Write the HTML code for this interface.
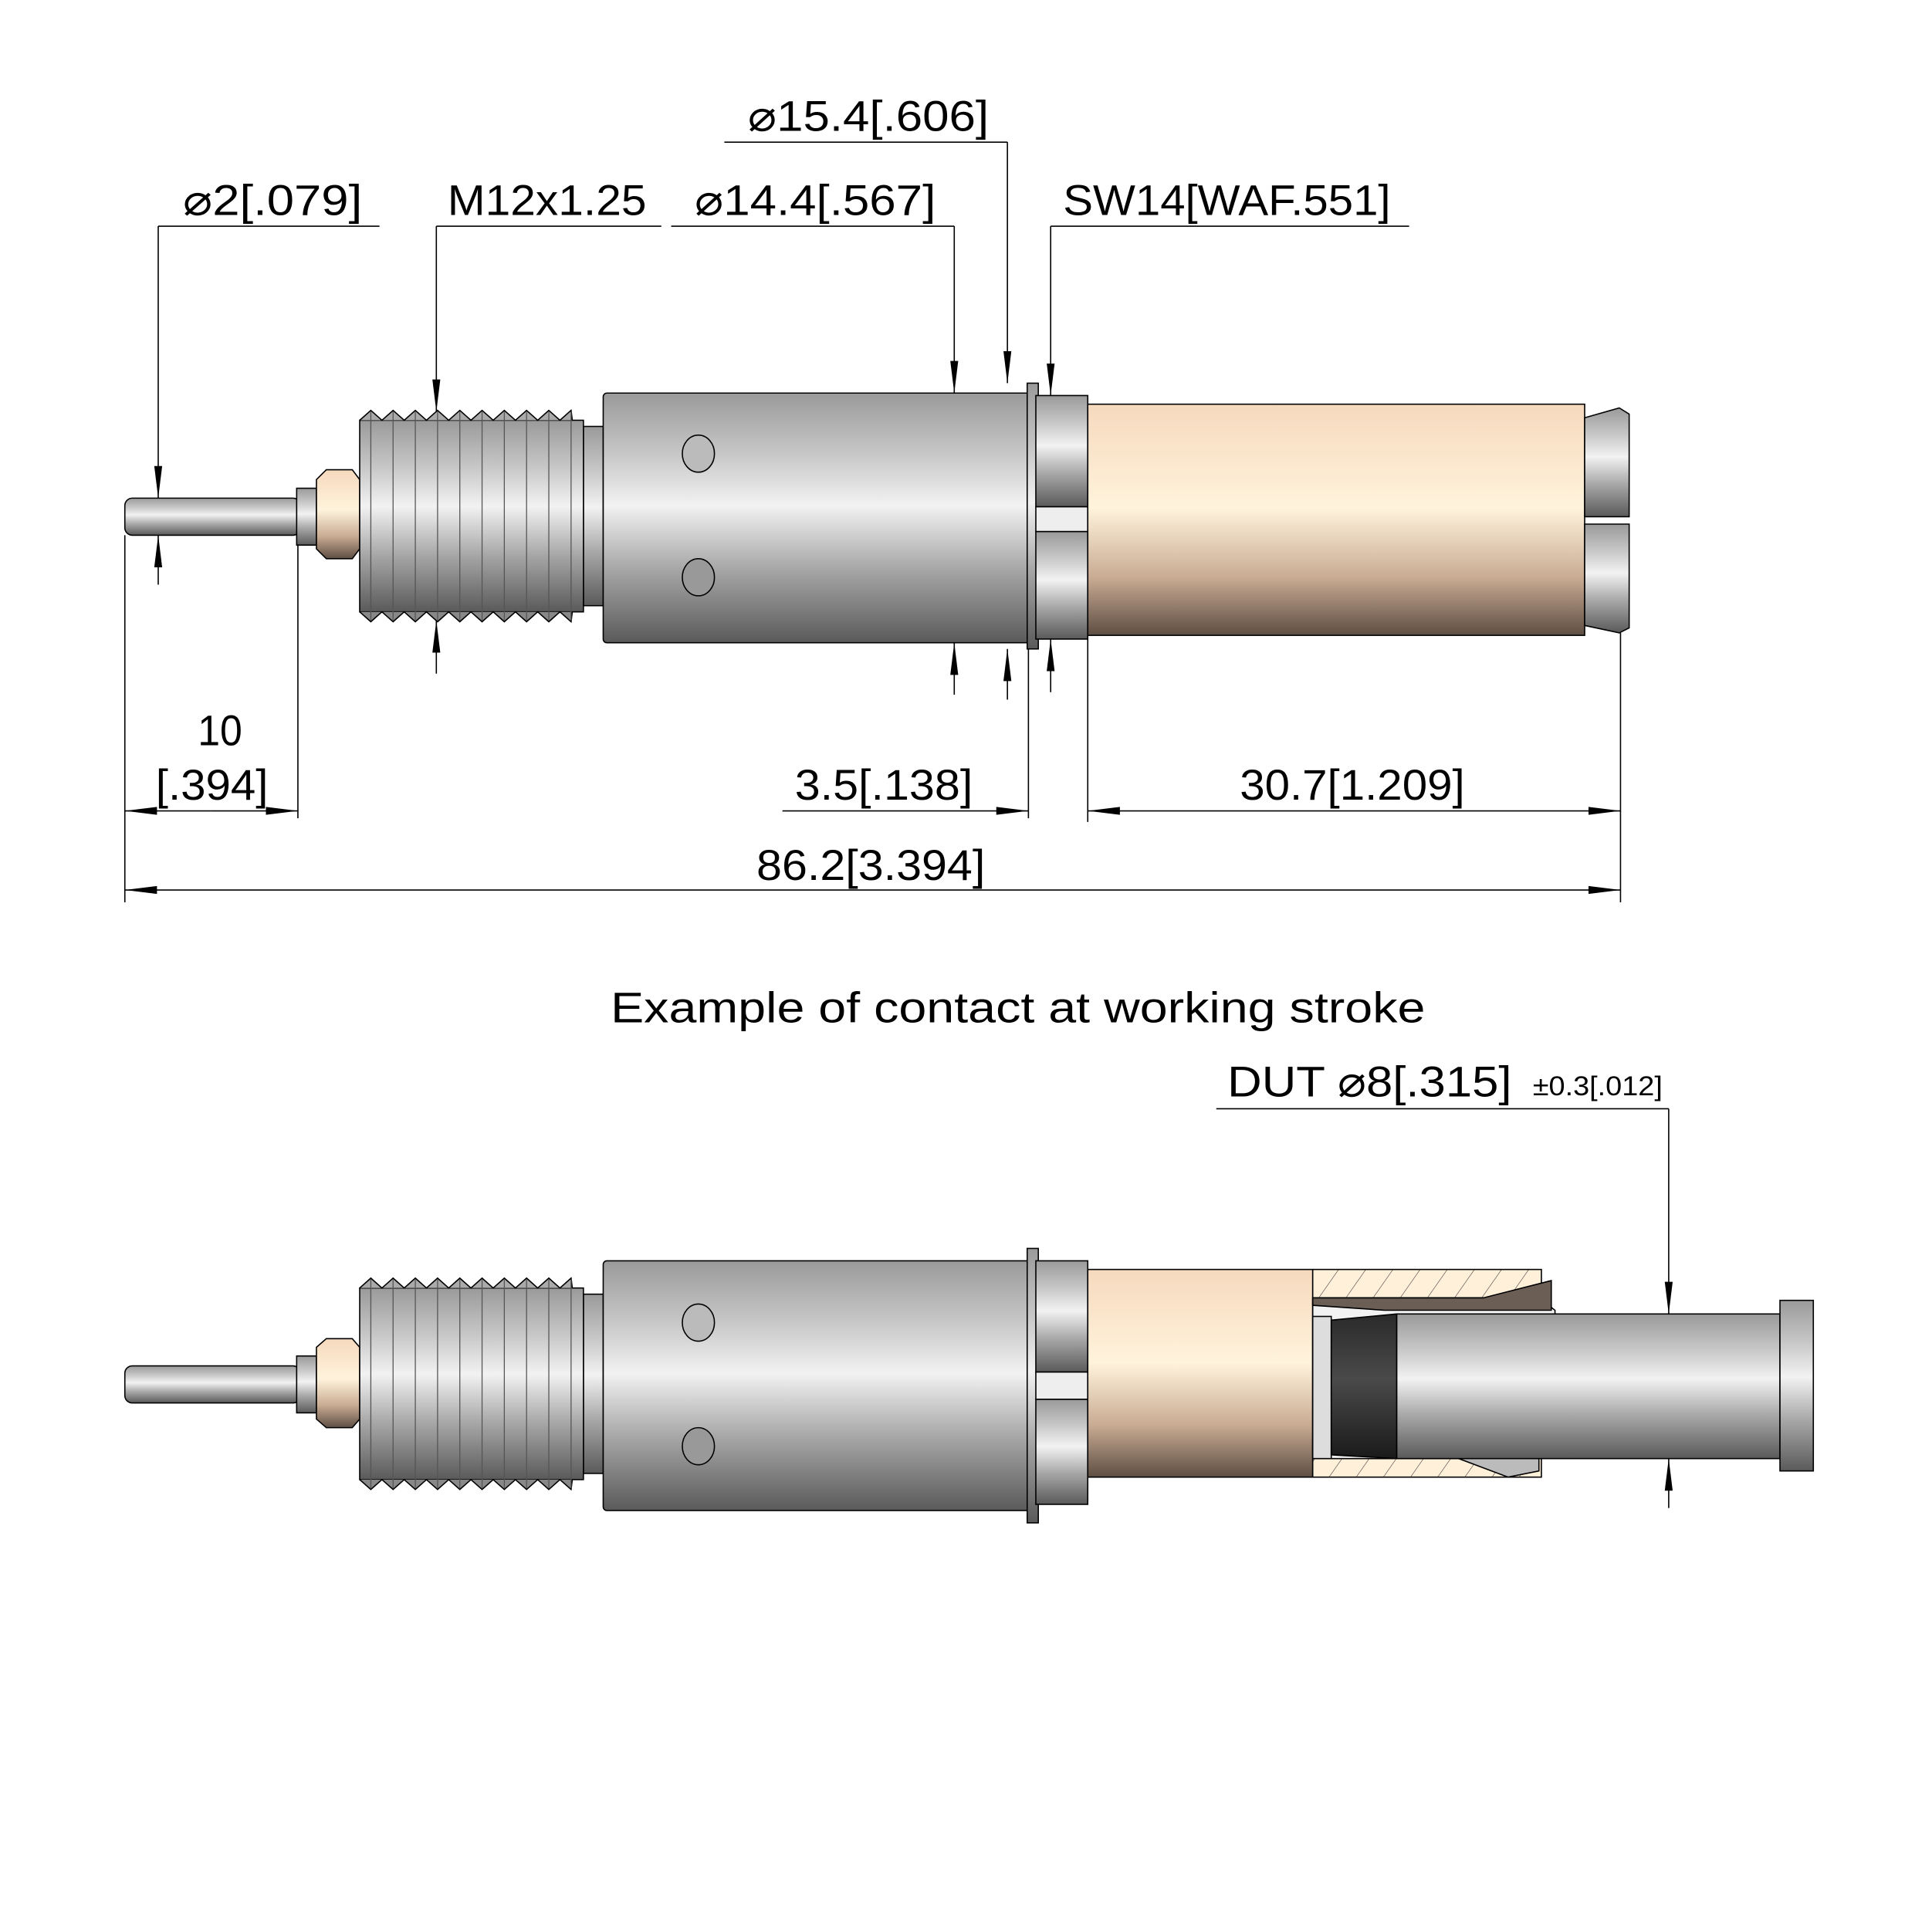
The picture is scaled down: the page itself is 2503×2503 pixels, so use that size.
<!DOCTYPE html>
<html><head><meta charset="utf-8"><style>html,body{margin:0;padding:0;background:#fff}svg{display:block}</style></head>
<body>
<svg width="2503" height="2503" viewBox="0 0 1563 1563" xmlns="http://www.w3.org/2000/svg" font-family="'Liberation Sans',sans-serif">
<defs>
<linearGradient id="m" x1="0" y1="0" x2="0" y2="1">
<stop offset="0" stop-color="#9a9a9a"/><stop offset="0.25" stop-color="#c8c8c8"/><stop offset="0.45" stop-color="#f2f2f2"/><stop offset="0.7" stop-color="#a8a8a8"/><stop offset="1" stop-color="#5a5a5a"/></linearGradient>
<linearGradient id="t" x1="0" y1="0" x2="0" y2="1">
<stop offset="0" stop-color="#f6d9bd"/><stop offset="0.45" stop-color="#fff3dc"/><stop offset="0.75" stop-color="#c9ab93"/><stop offset="1" stop-color="#5e4e43"/></linearGradient>
<linearGradient id="k" x1="0" y1="0" x2="0" y2="1">
<stop offset="0" stop-color="#2a2a2a"/><stop offset="0.45" stop-color="#4a4a4a"/><stop offset="1" stop-color="#1a1a1a"/></linearGradient>
<pattern id="h" width="18" height="18" patternUnits="userSpaceOnUse" patternTransform="rotate(35)"><rect width="18" height="18" fill="#fff0da"/><line x1="0" y1="0" x2="0" y2="18" stroke="#333" stroke-width="0.7"/></pattern>
<marker id="a" viewBox="0 0 10 10" refX="10" refY="5" markerWidth="26" markerHeight="8" markerUnits="userSpaceOnUse" orient="auto" preserveAspectRatio="none"><path d="M0,1 L10,5 L0,9z" fill="#000"/></marker>
</defs>
<g stroke="#000" stroke-width="1" fill="none">
<!-- ===== TOP DRAWING ===== -->
<rect x="101" y="403" width="142" height="30" rx="6" fill="url(#m)"/>
<rect x="240" y="395" width="16" height="46" fill="url(#m)"/>
<path d="M256,388 L264,380 L285,380 L291,388 L291,444 L285,452 L264,452 L256,444Z" fill="url(#t)"/>
<rect x="472" y="345" width="16" height="145" fill="url(#m)"/>
<rect x="291" y="340" width="181" height="155" fill="url(#m)"/>
<path d="M291,340 l9,-8 l9,8 l9,-8 l9,8 l9,-8 l9,8 l9,-8 l9,8 l9,-8 l9,8 l9,-8 l9,8 l9,-8 l9,8 l9,-8 l9,8 l9,-8 l9,8 l9,-8 l1,8" fill="#aaa"/>
<path d="M291,495 l9,8 l9,-8 l9,8 l9,-8 l9,8 l9,-8 l9,8 l9,-8 l9,8 l9,-8 l9,8 l9,-8 l9,8 l9,-8 l9,8 l9,-8 l9,8 l9,-8 l9,8 l1,-8" fill="#888"/>
<g stroke="#555" stroke-width="0.8"><path d="M300,333V502M318,333V502M336,333V502M354,333V502M372,333V502M390,333V502M408,333V502M426,333V502M444,333V502M462,333V502"/></g>
<rect x="488" y="318" width="346" height="202" rx="3" fill="url(#m)"/>
<ellipse cx="565" cy="367" rx="13" ry="15" fill="#bbb"/>
<ellipse cx="565" cy="467" rx="13" ry="15" fill="#999"/>
<rect x="831" y="310" width="9" height="215" fill="url(#m)"/>
<path d="M838,320 L880,320 L880,410 L838,410Z" fill="url(#m)"/>
<path d="M838,430 L880,430 L880,517 L838,517Z" fill="url(#m)"/>
<rect x="838" y="410" width="42" height="20" fill="#eee"/>
<rect x="880" y="327" width="402" height="187" fill="url(#t)"/>
<path d="M1282,338 L1310,330 L1318,335 L1318,418 L1282,418Z" fill="url(#m)"/>
<path d="M1282,424 L1318,424 L1318,508 L1310,512 L1282,506Z" fill="url(#m)"/>
<!-- dims top -->
<path d="M128,183H307M353,183H535M543,183H772M586,115H815M850,183H1140M984,897H1350"/>
<path d="M128,183V403" marker-end="url(#a)"/><path d="M128,473V433" marker-end="url(#a)"/>
<path d="M353,183V333" marker-end="url(#a)"/><path d="M353,545V502" marker-end="url(#a)"/>
<path d="M772,183V318" marker-end="url(#a)"/><path d="M772,562V520" marker-end="url(#a)"/>
<path d="M815,115V310" marker-end="url(#a)"/><path d="M815,566V525" marker-end="url(#a)"/>
<path d="M850,183V320" marker-end="url(#a)"/><path d="M850,560V517" marker-end="url(#a)"/>
<path d="M101,433V730M241,441V662M832,525V662M880,517V665M1311,512V730"/>
<path d="M171,656H101" marker-end="url(#a)"/><path d="M171,656H241" marker-end="url(#a)"/>
<path d="M633,656H832" marker-end="url(#a)"/>
<path d="M1100,656H880" marker-end="url(#a)"/><path d="M1100,656H1311" marker-end="url(#a)"/>
<path d="M700,720H101" marker-end="url(#a)"/><path d="M700,720H1311" marker-end="url(#a)"/>
<path d="M1350,897V1063" marker-end="url(#a)"/><path d="M1350,1220V1180" marker-end="url(#a)"/>

<!-- ===== BOTTOM DRAWING ===== -->
<rect x="101" y="1105" width="142" height="30" rx="6" fill="url(#m)"/>
<rect x="240" y="1097" width="16" height="46" fill="url(#m)"/>
<path d="M256,1090 L264,1083 L285,1083 L291,1090 L291,1148 L285,1155 L264,1155 L256,1148Z" fill="url(#t)"/>
<rect x="472" y="1047" width="16" height="145" fill="url(#m)"/>
<rect x="291" y="1042" width="181" height="155" fill="url(#m)"/>
<path d="M291,1042 l9,-8 l9,8 l9,-8 l9,8 l9,-8 l9,8 l9,-8 l9,8 l9,-8 l9,8 l9,-8 l9,8 l9,-8 l9,8 l9,-8 l9,8 l9,-8 l9,8 l9,-8 l1,8" fill="#aaa"/>
<path d="M291,1197 l9,8 l9,-8 l9,8 l9,-8 l9,8 l9,-8 l9,8 l9,-8 l9,8 l9,-8 l9,8 l9,-8 l9,8 l9,-8 l9,8 l9,-8 l9,8 l9,-8 l9,8 l1,-8" fill="#888"/>
<g stroke="#555" stroke-width="0.8"><path d="M300,1035V1204M318,1035V1204M336,1035V1204M354,1035V1204M372,1035V1204M390,1035V1204M408,1035V1204M426,1035V1204M444,1035V1204M462,1035V1204"/></g>
<rect x="488" y="1020" width="346" height="202" rx="3" fill="url(#m)"/>
<ellipse cx="565" cy="1070" rx="13" ry="15" fill="#bbb"/>
<ellipse cx="565" cy="1170" rx="13" ry="15" fill="#999"/>
<rect x="831" y="1010" width="9" height="222" fill="url(#m)"/>
<path d="M838,1020 L880,1020 L880,1110 L838,1110Z" fill="url(#m)"/>
<path d="M838,1132 L880,1132 L880,1217 L838,1217Z" fill="url(#m)"/>
<rect x="838" y="1110" width="42" height="22" fill="#eee"/>
<rect x="880" y="1027" width="182" height="168" fill="url(#t)"/>
<rect x="1062" y="1027" width="185" height="168" fill="url(#h)"/>
<path d="M1062,1050 L1245,1050 L1258,1060 L1258,1175 L1245,1180 L1062,1180Z" fill="#f2f2f2"/>
<path d="M1062,1050 L1200,1050 L1255,1036 L1255,1060 L1120,1060 L1062,1056Z" fill="#6a5e55"/>
<path d="M1062,1165 L1140,1165 L1220,1195 L1245,1190 L1245,1180 L1062,1175Z" fill="#bbb"/>
<rect x="1062" y="1065" width="15" height="115" fill="#ddd"/>
<path d="M1077,1068 L1130,1063 L1130,1180 L1077,1177Z" fill="url(#k)"/>
<rect x="1130" y="1063" width="310" height="117" fill="url(#m)"/>
<rect x="1440" y="1052" width="27" height="138" fill="url(#m)"/>
</g>
<g font-size="35" fill="#000">
<text x="148" y="174" textLength="145" lengthAdjust="spacingAndGlyphs">⌀2[.079]</text>
<text x="362" y="174" textLength="161" lengthAdjust="spacingAndGlyphs">M12x1.25</text>
<text x="562" y="174" textLength="195" lengthAdjust="spacingAndGlyphs">⌀14.4[.567]</text>
<text x="605" y="106" textLength="195" lengthAdjust="spacingAndGlyphs">⌀15.4[.606]</text>
<text x="860" y="174" textLength="265" lengthAdjust="spacingAndGlyphs">SW14[WAF.551]</text>
<text x="160" y="603" textLength="36" lengthAdjust="spacingAndGlyphs">10</text>
<text x="126" y="647" textLength="91" lengthAdjust="spacingAndGlyphs">[.394]</text>
<text x="643" y="647" textLength="144" lengthAdjust="spacingAndGlyphs">3.5[.138]</text>
<text x="1003" y="647" textLength="182" lengthAdjust="spacingAndGlyphs">30.7[1.209]</text>
<text x="612" y="712" textLength="185" lengthAdjust="spacingAndGlyphs">86.2[3.394]</text>
<text x="494" y="827" textLength="659" lengthAdjust="spacingAndGlyphs">Example of contact at working stroke</text>
<text x="993" y="887" textLength="230" lengthAdjust="spacingAndGlyphs">DUT  ⌀8[.315]</text>
<text x="1240" y="886" font-size="22" textLength="105" lengthAdjust="spacingAndGlyphs">±0.3[.012]</text>
</g>
</svg>
</body></html>
